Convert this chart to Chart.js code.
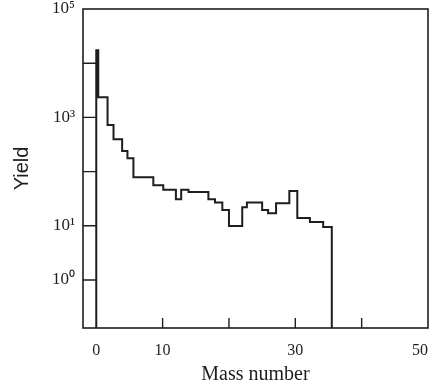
<!DOCTYPE html>
<html lang="en">
<head>
<meta charset="UTF-8">
<title>Yield vs mass number</title>
<script src="https://cdn.jsdelivr.net/npm/chart.js"></script>
<style>
    body { margin: 0; background: #fff; }
    #wrap { width: 434px; height: 387px; position: relative; }
</style>
</head>
<body>
<div id="wrap"><canvas id="yieldChart"></canvas></div>
<script>
// histogram bin edges (mass number) and yield in each bin
const binEdges = [0, 0.3, 1.7, 2.6, 3.9, 4.7, 5.6, 8.6, 10.1, 12.0, 12.8, 13.9, 16.9,
                  17.9, 19.0, 20.0, 22.0, 22.7, 25.0, 25.9, 27.1, 29.1, 30.3, 32.2, 34.2, 35.5];
const yields = [17400, 2360, 720, 397, 239, 177, 79, 56, 46, 31, 46, 42, 31,
                27, 19.5, 9.9, 22, 27, 19.5, 17, 26, 44, 13.9, 11.7, 9.5];

// axis ticks
const xTickValues = [0, 10, 20, 30, 40, 50];
const xTickLabels = ['0', '10', '', '30', '', '50'];
const yTickValues = [1, 10, 100, 1000, 10000, 100000];
const yTickLabels = ['10⁰', '10¹', '', '10³', '', '10⁵'];

const ink = '#1e1e1e';
const FLOOR = 0.01; // below the axis, so the outer edges run down to the frame

const points = [{x: binEdges[0], y: FLOOR}];
yields.forEach((v, i) => points.push({x: binEdges[i], y: v}));
points.push({x: binEdges[binEdges.length - 1], y: FLOOR});

// box frame plus inward tick marks
const frameTicks = {
    id: 'frameTicks',
    afterDraw(chart) {
        const {ctx, chartArea: a, scales} = chart;
        ctx.save();
        ctx.strokeStyle = ink;
        ctx.lineWidth = 1.6;
        ctx.strokeRect(a.left, a.top, a.right - a.left, a.bottom - a.top);
        ctx.lineWidth = 1.4;
        const x0 = scales.x.getPixelForValue(0);
        ctx.beginPath();
        yTickValues.slice(0, -1).forEach(v => {
            const y = scales.y.getPixelForValue(v);
            ctx.moveTo(a.left, y);
            ctx.lineTo(x0, y);
        });
        xTickValues.slice(1, -1).forEach(v => {
            const x = scales.x.getPixelForValue(v);
            ctx.moveTo(x, a.bottom);
            ctx.lineTo(x, a.bottom - 10);
        });
        ctx.stroke();
        ctx.restore();
    }
};

new Chart(document.getElementById('yieldChart'), {
    type: 'line',
    data: {
        datasets: [{
            data: points,
            stepped: 'before', // horizontal run first, then the vertical edge
            borderColor: ink,
            borderWidth: 2,
            pointRadius: 0,
            fill: false
        }]
    },
    options: {
        responsive: true,
        maintainAspectRatio: false,
        animation: false,
        layout: { padding: { top: 9, right: 6, left: 0, bottom: 0 } },
        plugins: { legend: { display: false }, tooltip: { enabled: false } },
        scales: {
            x: {
                type: 'linear',
                min: -2,
                max: 50,
                grid: { display: false, drawTicks: false },
                border: { display: false },
                // blank tick at the left edge so 'inner' only pulls the "50" inside
                afterBuildTicks: s => {
                    s.ticks = [{value: s.min}].concat(xTickValues.map(v => ({value: v})));
                },
                afterFit: s => { s.height = 59; s.paddingLeft = 0; s.paddingRight = 0; },
                ticks: {
                    autoSkip: false,
                    maxRotation: 0,
                    align: 'inner',
                    padding: 13,
                    color: ink,
                    font: { family: 'Liberation Serif', size: 16 },
                    callback: v => xTickLabels[xTickValues.indexOf(v)] ?? ''
                },
                title: {
                    display: true,
                    text: 'Mass number',
                    color: ink,
                    padding: { top: 0, bottom: 0 },
                    font: { family: 'Liberation Serif', size: 20 }
                }
            },
            y: {
                type: 'logarithmic',
                min: 0.13,
                max: 100000,
                grid: { display: false, drawTicks: false },
                border: { display: false },
                afterBuildTicks: s => { s.ticks = yTickValues.map(v => ({value: v})); },
                afterFit: s => { s.width = 83; s.paddingTop = 0; s.paddingBottom = 0; },
                ticks: {
                    autoSkip: false,
                    padding: 8,
                    color: ink,
                    font: { family: 'Liberation Serif', size: 17 },
                    callback: v => yTickLabels[yTickValues.indexOf(v)] ?? ''
                },
                title: {
                    display: true,
                    text: 'Yield',
                    color: ink,
                    padding: { top: 10, bottom: 0 },
                    font: { family: 'Liberation Sans', size: 20 }
                }
            }
        }
    },
    plugins: [frameTicks]
});
</script>
</body>
</html>
